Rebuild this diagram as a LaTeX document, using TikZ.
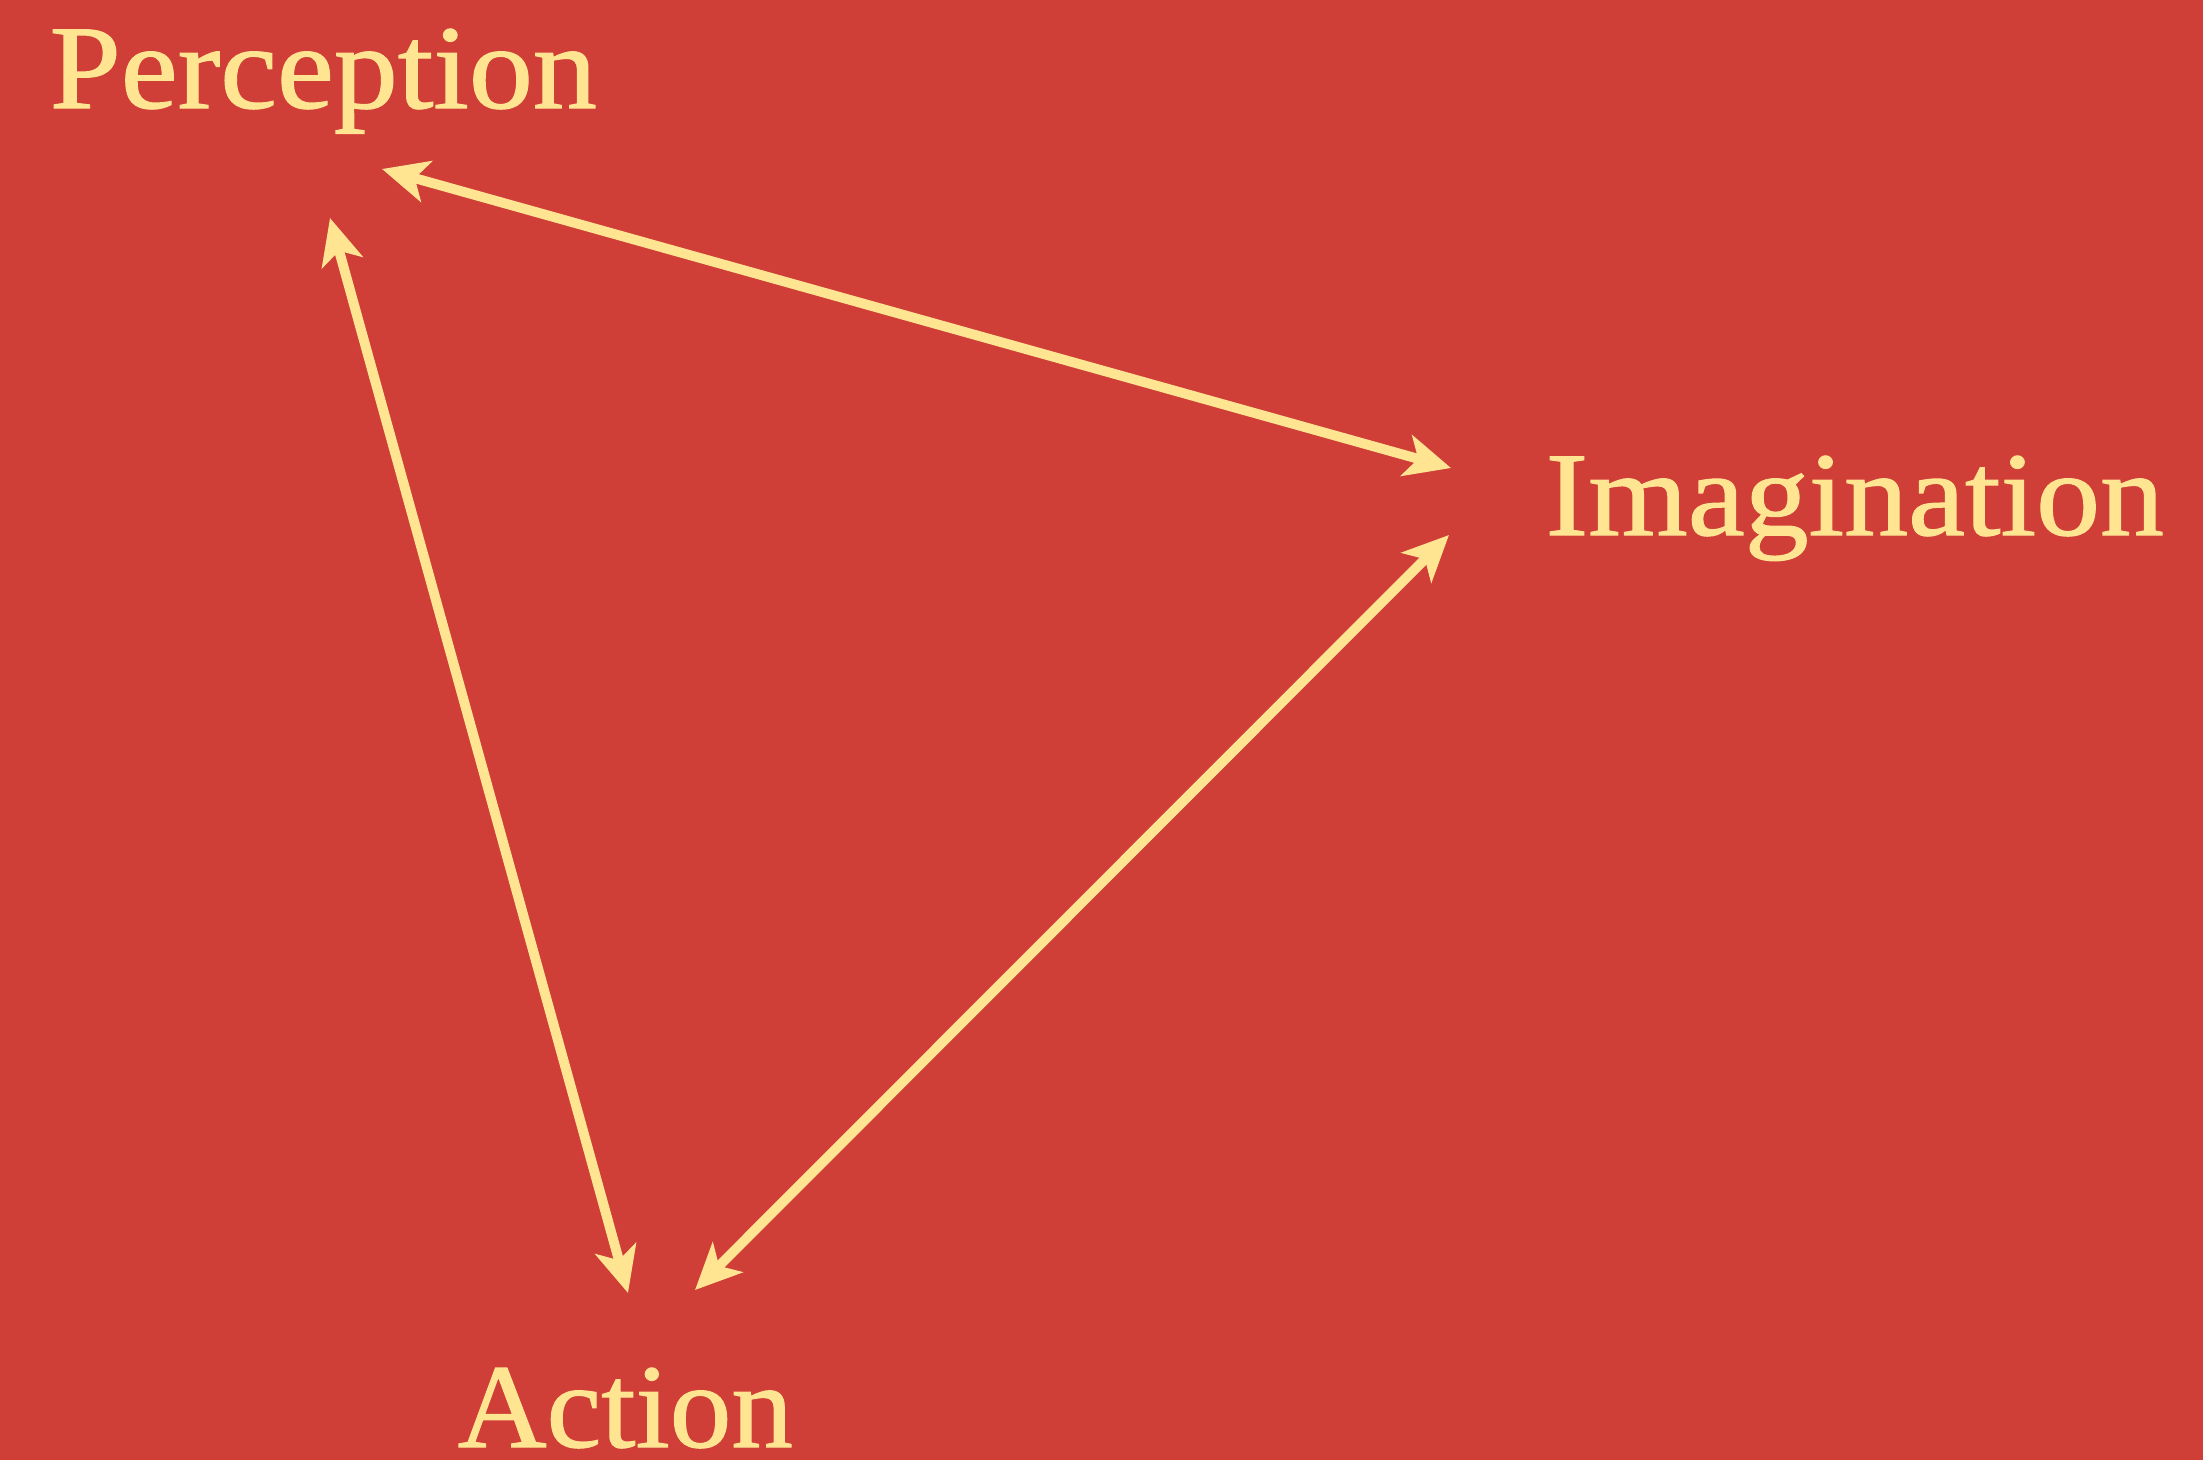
\documentclass[tikz,border=0pt]{standalone}
\usepackage{fontspec}
\setmainfont{Liberation Serif}
\newfontfamily\lblfont[FakeBold=1]{Liberation Serif}
\usetikzlibrary{arrows.meta}
\definecolor{bgred}{RGB}{208,62,56}
\definecolor{pale}{RGB}{255,228,146}
\tikzset{
  lbl/.style={text=pale, inner sep=0pt, font=\lblfont\fontsize{34pt}{40pt}\selectfont\addfontfeature{FakeBold=1}},
  link/.style={draw=pale, line width=2.8pt,
    {Stealth[length=0.46cm,width=0.42cm,inset=0.12cm]}-{Stealth[length=0.46cm,width=0.42cm,inset=0.12cm]}}
}
\begin{document}
\begin{tikzpicture}[x=0.01cm,y=-0.01cm]
\fill[bgred] (0,0) rectangle (2203,1460);
\useasboundingbox (0,0) rectangle (2203,1460);
\node[lbl, anchor=base west] (perc) at (49,108) {\scalebox{1.07}[1]{Perception}};
\node[lbl, anchor=base west] (imag) at (1545,535) {\scalebox{1.07}[1]{Imagination}};
\node[lbl, anchor=base west] (act) at (457,1447) {\scalebox{1.03}[1]{Action}};
\coordinate (pI) at (382,169);
\coordinate (iP) at (1451,468);
\coordinate (pA) at (330,218);
\coordinate (aP) at (628,1293);
\coordinate (iA) at (1449,535);
\coordinate (aI) at (695,1290);
\draw[link] (pI) -- (iP);
\draw[link] (pA) -- (aP);
\draw[link] (iA) -- (aI);
\end{tikzpicture}
\end{document}
